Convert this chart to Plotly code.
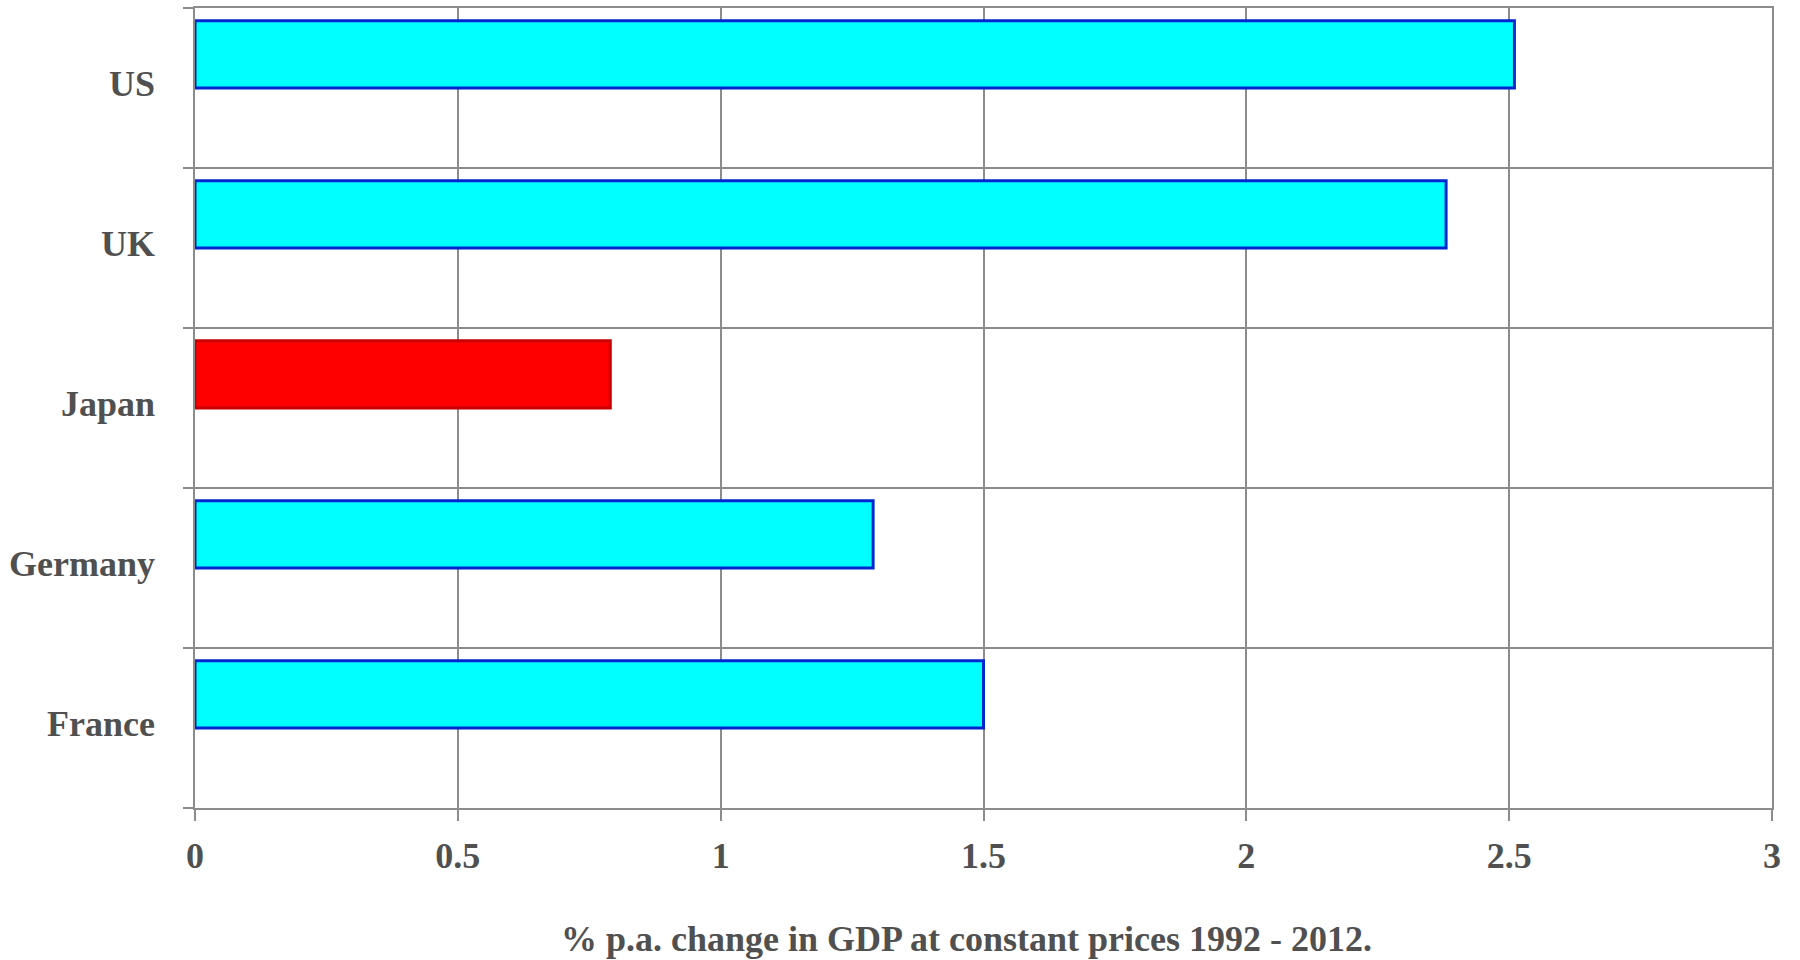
import plotly.graph_objects as go

# Average annual GDP growth, 1992-2012 (% p.a., constant prices)
countries = ["France", "Germany", "Japan", "UK", "US"]
growth = [1.50, 1.29, 0.79, 2.38, 2.51]
fill_colors = ["#00FFFF", "#00FFFF", "#FF0000", "#00FFFF", "#00FFFF"]
edge_colors = ["#0026D0", "#0026D0", "#C80000", "#0026D0", "#0026D0"]
x_ticks = [0, 0.5, 1, 1.5, 2, 2.5, 3]
x_tick_text = ["0", "0.5", "1", "1.5", "2", "2.5", "3"]
x_title = "% p.a. change in GDP at constant prices 1992 - 2012."

FONT = "Liberation Serif, Times New Roman, serif"
GRID = "#8c8c8c"
TEXT = "#505050"

fig = go.Figure(
    go.Bar(
        y=countries,
        x=growth,
        orientation="h",
        width=0.42,
        offset=0,
        marker=dict(color=fill_colors, line=dict(color=edge_colors, width=3)),
        hoverinfo="x+y",
    )
)

fig.update_layout(
    width=1800,
    height=960,
    margin=dict(l=195, r=28, t=6, b=152),
    plot_bgcolor="white",
    paper_bgcolor="white",
    showlegend=False,
    font=dict(family=FONT, color=TEXT),
)

# x-axis caption, placed as an annotation so it can sit a little left of centre
fig.add_annotation(
    text=x_title,
    xref="paper",
    yref="paper",
    x=0.5,
    y=0,
    xshift=-17,
    yshift=-131,
    xanchor="center",
    yanchor="middle",
    showarrow=False,
    font=dict(family=FONT, size=36, color=TEXT, weight="bold"),
)

fig.update_xaxes(
    range=[0, 3],
    tickvals=x_ticks,
    ticktext=x_tick_text,
    showgrid=True,
    gridcolor=GRID,
    gridwidth=1.5,
    zeroline=False,
    showline=True,
    linecolor=GRID,
    linewidth=1.5,
    mirror=True,
    ticks="outside",
    ticklen=11,
    tickwidth=1.5,
    tickcolor=GRID,
    ticklabelstandoff=4,
    tickfont=dict(family=FONT, size=36, color=TEXT, weight="bold"),
)

fig.update_yaxes(
    categoryorder="array",
    categoryarray=countries,
    range=[-0.5, 4.5],
    tickson="boundaries",
    showgrid=True,
    gridcolor=GRID,
    gridwidth=1.5,
    zeroline=False,
    showline=True,
    linecolor=GRID,
    linewidth=1.5,
    mirror=True,
    ticks="outside",
    ticklen=10,
    tickwidth=1.5,
    tickcolor=GRID,
    ticklabelstandoff=31,
    ticklabelshift=-5,
    tickfont=dict(family=FONT, size=36, color=TEXT, weight="bold"),
)

fig.write_html("out.html")
